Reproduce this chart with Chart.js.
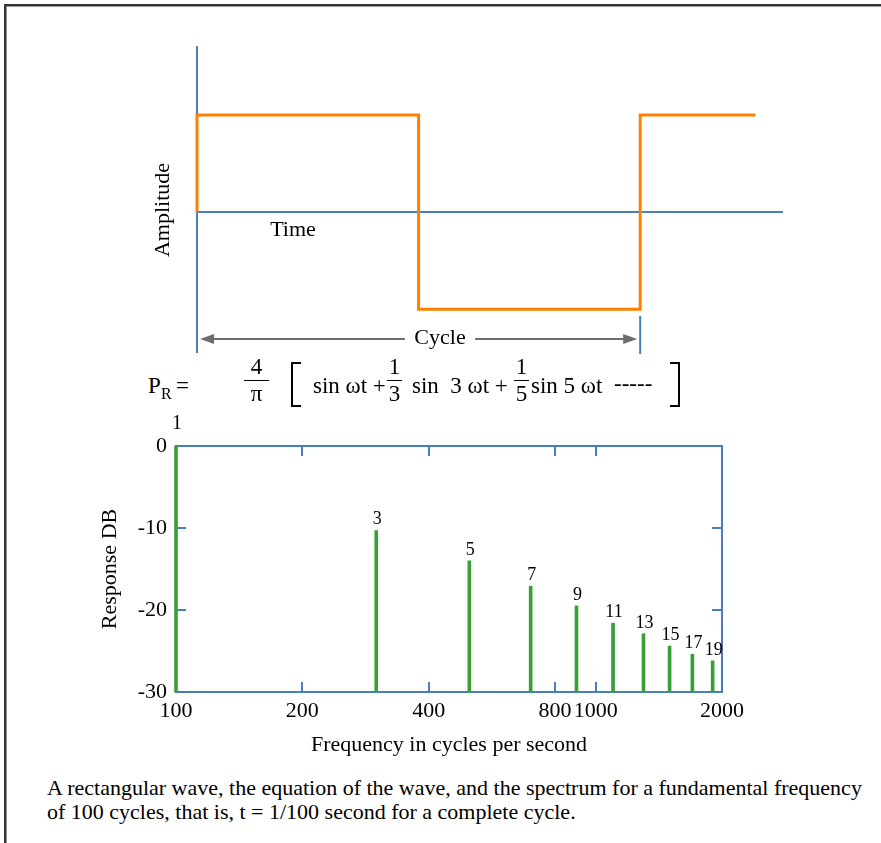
<!DOCTYPE html>
<html>
<head>
<meta charset="utf-8">
<script src="https://cdn.jsdelivr.net/npm/chart.js@4"></script>
<style>
  body { margin: 0; background: #fff; }
  #page { position: relative; width: 881px; height: 843px; overflow: hidden; font-family: "Liberation Serif", "Times New Roman", serif; color: #000; }
  #frame { position: absolute; left: 4px; top: 4px; width: 1000px; height: 1000px; border-left: 2px solid #333; border-top: 2px solid #333; box-shadow: inset 1px 1px 0 #999; }
  canvas { position: absolute; left: 0; }
  .t { position: absolute; font-size: 23px; line-height: 20px; white-space: pre; }
  .sub { position: absolute; font-size: 16px; line-height: 16px; }
  .frac { position: absolute; font-size: 23px; line-height: 20px; text-align: center; }
  .frac .bar { height: 1px; background: #000; margin: 3px 0; }
  .brk { position: absolute; top: 362px; width: 8px; height: 41px; border-top: 2px solid #000; border-bottom: 2px solid #000; }
  #caption { position: absolute; left: 47px; top: 776px; font-size: 22px; line-height: 24px; white-space: nowrap; }
</style>
</head>
<body>
<div id="page">
  <div id="frame"></div>
  <canvas id="wave" width="881" height="360" style="top:0"></canvas>
  <canvas id="spectrum" width="881" height="370" style="top:400px"></canvas>

  <!-- equation of the wave -->
  <span class="t" style="left:148px;top:376px">P</span>
  <span class="sub" style="left:161px;top:386px">R</span>
  <span class="t" style="left:176px;top:376px">=</span>
  <div class="frac" style="left:244px;top:357px;width:25px"><div>4</div><div class="bar"></div><div>π</div></div>
  <div class="brk" style="left:291px;border-left:2px solid #000"></div>
  <span class="t" style="left:313px;top:376px">sin ωt +</span>
  <div class="frac" style="left:387px;top:357px;width:15px"><div>1</div><div class="bar"></div><div>3</div></div>
  <span class="t" style="left:412px;top:376px">sin  3 ωt +</span>
  <div class="frac" style="left:514px;top:357px;width:15px"><div>1</div><div class="bar"></div><div>5</div></div>
  <span class="t" style="left:531px;top:376px">sin 5 ωt</span>
  <span class="t" style="left:614px;top:374px">-----</span>
  <div class="brk" style="left:670px;border-right:2px solid #000"></div>

  <div id="caption">A rectangular wave, the equation of the wave, and the spectrum for a fundamental frequency<br>of 100 cycles, that is, t = 1/100 second for a complete cycle.</div>
</div>

<script>
const SERIF = "'Liberation Serif', 'Times New Roman', serif";
const BLUE = "#4a7ebb";
const ORANGE = "#ff8000";
const GREEN = "#3aa035";
const GREY = "#6d6d6d";

// square wave corners, one cycle = 1
const waveTime = [0, 0, 0.5, 0.5, 1, 1, 1.26];
const waveAmp = [0, 1, 1, -1, -1, 1, 1];

// spectrum
const harmonics = [1, 3, 5, 7, 9, 11, 13, 15, 17, 19];
const freqs = [100, 300, 500, 700, 900, 1100, 1300, 1500, 1700, 1900];
const responseDb = [0, -10.3, -14.0, -17.1, -19.5, -21.6, -22.9, -24.4, -25.4, -26.2];
const dbFloor = -30;
const freqTicks = [100, 200, 400, 800, 1000, 2000];
const dbTicks = [-30, -20, -10, 0];
const innerFreqTicks = [200, 400, 800, 1000];
const innerDbTicks = [-10, -20];

// labels + cycle arrow for the wave chart
const waveDecor = {
  id: "waveDecor",
  afterDraw(chart) {
    const { ctx } = chart;
    const xs = chart.scales.x;
    const x0 = xs.getPixelForValue(0);
    const x1 = xs.getPixelForValue(1);
    ctx.save();
    ctx.fillStyle = "#000";
    ctx.font = "22px " + SERIF;
    ctx.textAlign = "center";
    ctx.textBaseline = "middle";
    ctx.fillText("Time", 293, 230);
    ctx.fillText("Cycle", 440, 338);
    ctx.save();
    ctx.translate(163, 210);
    ctx.rotate(-Math.PI / 2);
    ctx.fillText("Amplitude", 0, 0);
    ctx.restore();

    // right cycle marker
    ctx.strokeStyle = BLUE;
    ctx.lineWidth = 2;
    ctx.beginPath();
    ctx.moveTo(x1, 316);
    ctx.lineTo(x1, 354);
    ctx.stroke();

    // arrow
    const y = 339;
    const a = x0 + 3, b = x1 - 3;
    ctx.strokeStyle = GREY;
    ctx.fillStyle = GREY;
    ctx.beginPath();
    ctx.moveTo(a + 10, y); ctx.lineTo(405, y);
    ctx.moveTo(475, y); ctx.lineTo(b - 10, y);
    ctx.stroke();
    ctx.beginPath();
    ctx.moveTo(a, y); ctx.lineTo(a + 14, y - 5); ctx.lineTo(a + 14, y + 5); ctx.closePath();
    ctx.moveTo(b, y); ctx.lineTo(b - 14, y - 5); ctx.lineTo(b - 14, y + 5); ctx.closePath();
    ctx.fill();
    ctx.restore();
  }
};

new Chart(document.getElementById("wave"), {
  type: "line",
  data: {
    datasets: [{
      data: waveTime.map((t, i) => ({ x: t, y: waveAmp[i] })),
      borderColor: ORANGE,
      borderWidth: 3,
      borderJoinStyle: "miter",
      pointRadius: 0,
      tension: 0,
      clip: false
    }]
  },
  options: {
    responsive: false,
    animation: false,
    layout: { padding: { left: 197, top: 47, right: 99, bottom: 8 } },
    plugins: { legend: { display: false }, tooltip: { enabled: false } },
    scales: {
      x: {
        type: "linear", min: 0, max: 1.32, position: { y: 0 },
        grid: { display: false, drawTicks: false },
        ticks: { display: false },
        border: { color: BLUE, width: 2 }
      },
      y: {
        type: "linear", min: -1.44, max: 1.70, position: { x: 0 },
        grid: { display: false, drawTicks: false },
        ticks: { display: false },
        border: { color: BLUE, width: 2 }
      }
    }
  },
  plugins: [waveDecor]
});

// frame, inner ticks and harmonic numbers for the spectrum
const spectrumDecor = {
  id: "spectrumDecor",
  beforeDatasetsDraw(chart) {
    const { ctx, chartArea: ca } = chart;
    const xs = chart.scales.x, ys = chart.scales.y;
    ctx.save();
    ctx.strokeStyle = BLUE;
    ctx.lineWidth = 2;
    ctx.strokeRect(ca.left, ca.top, ca.right - ca.left, ca.bottom - ca.top);
    ctx.beginPath();
    innerFreqTicks.forEach(f => {
      const x = Math.round(xs.getPixelForValue(f));
      ctx.moveTo(x, ca.top); ctx.lineTo(x, ca.top + 10);
      ctx.moveTo(x, ca.bottom); ctx.lineTo(x, ca.bottom - 10);
    });
    innerDbTicks.forEach(d => {
      const y = Math.round(ys.getPixelForValue(d));
      ctx.moveTo(ca.left, y); ctx.lineTo(ca.left + 10, y);
      ctx.moveTo(ca.right, y); ctx.lineTo(ca.right - 10, y);
    });
    ctx.stroke();
    ctx.restore();
  },
  afterDatasetsDraw(chart) {
    const { ctx } = chart;
    const xs = chart.scales.x, ys = chart.scales.y;
    ctx.save();
    ctx.fillStyle = "#000";
    ctx.textAlign = "center";
    ctx.textBaseline = "bottom";
    harmonics.forEach((n, i) => {
      const x = xs.getPixelForValue(freqs[i]);
      const y = ys.getPixelForValue(responseDb[i]);
      ctx.font = (i === 0 ? 20 : 18) + "px " + SERIF;
      ctx.fillText(String(n), x + 1, y - (i === 0 ? 12 : 2));
    });
    ctx.restore();
  }
};

new Chart(document.getElementById("spectrum"), {
  type: "bar",
  data: {
    datasets: [{
      data: freqs.map((f, i) => ({ x: f, y: [dbFloor, responseDb[i]] })),
      backgroundColor: GREEN,
      borderWidth: 0,
      barThickness: 3,
      clip: false
    }]
  },
  options: {
    responsive: false,
    animation: false,
    layout: { padding: { left: 0, top: 46, right: 159, bottom: 0 } },
    plugins: { legend: { display: false }, tooltip: { enabled: false } },
    scales: {
      x: {
        type: "logarithmic", min: 100, max: 2000, offset: false,
        grid: { display: false, drawTicks: false, offset: false },
        border: { display: false },
        afterBuildTicks: s => { s.ticks = freqTicks.map(v => ({ value: v })); },
        afterFit: s => { s.height = 78; },
        ticks: {
          autoSkip: false, maxRotation: 0, padding: 6, color: "#000",
          font: { family: SERIF, size: 22 },
          callback: v => String(v)
        },
        title: {
          display: true, text: "Frequency in cycles per second", color: "#000",
          font: { family: SERIF, size: 22 }, padding: { top: 0, bottom: 12 }
        }
      },
      y: {
        type: "linear", min: dbFloor, max: 0, beginAtZero: false,
        grid: { display: false, drawTicks: false },
        border: { display: false },
        afterBuildTicks: s => { s.ticks = dbTicks.map(v => ({ value: v })); },
        afterFit: s => { s.width = 176; },
        ticks: {
          padding: 9, color: "#000",
          font: { family: SERIF, size: 22 },
          callback: v => String(v)
        },
        title: {
          display: true, text: "Response DB", color: "#000",
          font: { family: SERIF, size: 22 }, padding: { top: 97, bottom: 0 }
        }
      }
    }
  },
  plugins: [spectrumDecor]
});
</script>
</body>
</html>
